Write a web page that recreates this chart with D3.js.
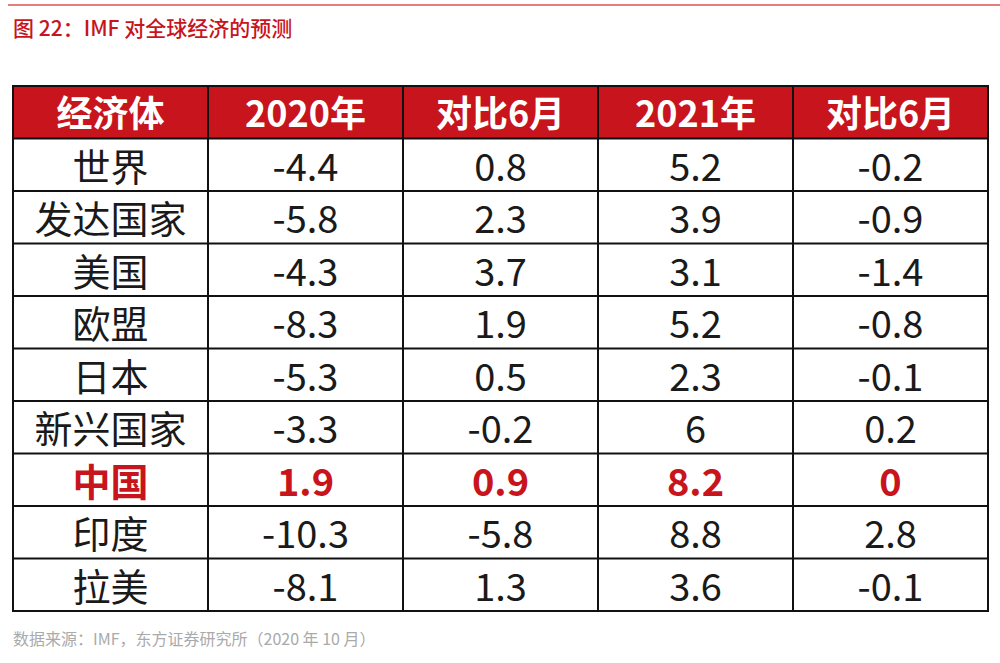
<!DOCTYPE html><html><head><meta charset="utf-8">
<script src="https://cdn.jsdelivr.net/npm/d3@7"></script>
<style>body{margin:0;background:#fff}</style></head><body>
<svg id="c" width="1000" height="663"></svg>
<script>
const headers=["经济体","2020年","对比6月","2021年","对比6月"];
const economies=["世界","发达国家","美国","欧盟","日本","新兴国家","中国","印度","拉美"];
const y2020=["-4.4","-5.8","-4.3","-8.3","-5.3","-3.3","1.9","-10.3","-8.1"];
const vsJune2020=["0.8","2.3","3.7","1.9","0.5","-0.2","0.9","-5.8","1.3"];
const y2021=["5.2","3.9","3.1","5.2","2.3","6","8.2","8.8","3.6"];
const vsJune2021=["-0.2","-0.9","-1.4","-0.8","-0.1","0.2","0","2.8","-0.1"];
const highlight="中国";
const font="'Noto Sans CJK SC','Noto Sans',sans-serif";
const red="#c8141c";
const svg=d3.select("#c");
svg.append("line").attr("x1",8).attr("x2",1000).attr("y1",5).attr("y2",5).attr("stroke","#d9534f").attr("stroke-width",1.5);
svg.append("text").attr("x",13).attr("y",36).attr("fill",red).attr("font-family",font).attr("font-size",21).attr("font-weight",500).text("图 22：IMF 对全球经济的预测");
svg.append("text").attr("x",13).attr("y",645).attr("fill","#aaa").attr("font-family",font).attr("font-size",16).text("数据来源：IMF，东方证券研究所（2020 年 10 月）");
const x=d3.scaleBand().domain(d3.range(headers.length)).range([13,988]);
const rowsIdx=["h",...economies];
const y=d3.scaleBand().domain(rowsIdx).range([86,611]);
svg.append("rect").attr("x",13).attr("y",y("h")).attr("width",975).attr("height",y.bandwidth()).attr("fill",red);
const rows=economies.map((e,i)=>[e,y2020[i],vsJune2020[i],y2021[i],vsJune2021[i]]);
headers.forEach((h,j)=>svg.append("text").attr("x",x(j)+x.bandwidth()/2).attr("y",y("h")+y.bandwidth()/2).attr("dy","0.4em").attr("text-anchor","middle").attr("fill","#fff").attr("font-family",font).attr("font-weight",700).attr("font-size",36).text(h));
rows.forEach(r=>{const hl=r[0]===highlight;r.forEach((v,j)=>svg.append("text").attr("x",x(j)+x.bandwidth()/2).attr("y",y(r[0])+y.bandwidth()/2).attr("dy","0.42em").attr("text-anchor","middle").attr("fill",hl?red:"#1a1a1a").attr("font-family",font).attr("font-weight",hl?700:400).attr("font-size",38).text(v));});
const g=svg.append("g").attr("stroke","#111").attr("stroke-width",2);
rowsIdx.slice(1).forEach(r=>g.append("line").attr("x1",13).attr("x2",988).attr("y1",y(r)).attr("y2",y(r)));
d3.range(1,headers.length).forEach(j=>g.append("line").attr("x1",x(j)).attr("x2",x(j)).attr("y1",86).attr("y2",611));
g.append("rect").attr("x",13).attr("y",86).attr("width",975).attr("height",525).attr("fill","none");
</script></body></html>
